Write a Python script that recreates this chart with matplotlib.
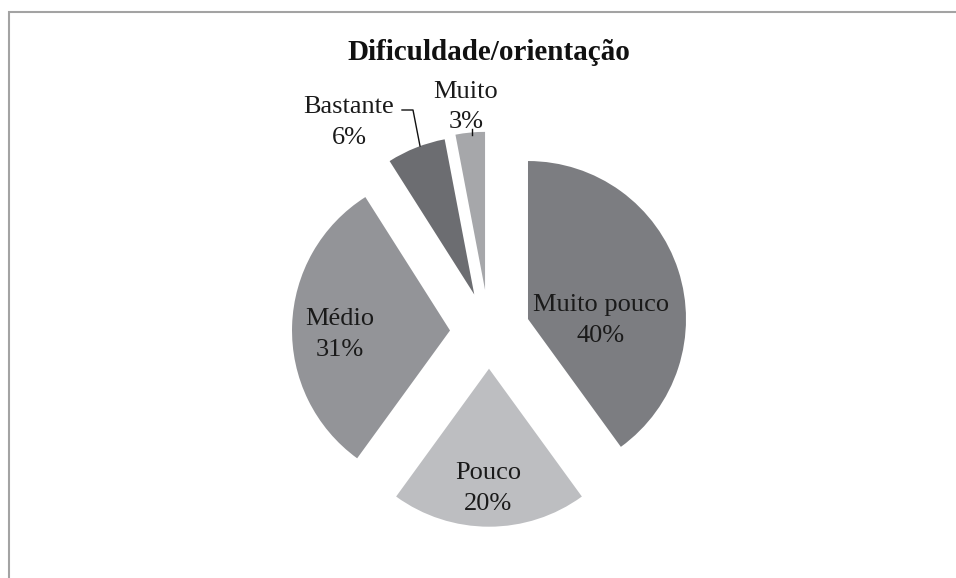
import matplotlib.pyplot as plt
from matplotlib.patches import Rectangle

# data
categories = ["Muito pouco", "Pouco", "Médio", "Bastante", "Muito"]
percents = [40, 20, 31, 6, 3]
colors = ["#7c7d81", "#bdbec1", "#939498", "#6c6d71", "#a6a7aa"]
explode = [41, 37, 39, 40, 42]

# label anchor points (pixels, y from top): first line baseline
label_xy = [(601, 311), (488, 479), (340, 325), (349, 113), (466, 98)]

W, H = 956, 578
plt.rcParams["font.family"] = ["Liberation Serif", "DejaVu Serif"]

fig = plt.figure(figsize=(W / 100, H / 100), dpi=100)
ax = fig.add_axes([0, 0, 1, 1])

ax.pie(percents, colors=colors, explode=explode, startangle=90,
       counterclock=False, radius=158, center=(489, H - 331.7),
       wedgeprops=dict(linewidth=0))

ax.set_xlim(0, W)
ax.set_ylim(0, H)
ax.set_aspect("auto")
ax.axis("off")

# outer frame (only left and top edges visible)
ax.add_patch(Rectangle((9.5, -20), 990, H - 12 + 20, fill=False,
                       edgecolor="#a3a3a3", linewidth=1.5, zorder=0))

ax.text(489, H - 60, "Dificuldade/orientação", ha="center", va="baseline",
        fontsize=21, fontweight="bold", color="#111111")

for name, pct, (x, y) in zip(categories, percents, label_xy):
    ax.text(x, H - y, name, ha="center", va="baseline", fontsize=19, color="#1a1a1a")
    ax.text(x, H - y - 30.5, f"{pct}%", ha="center", va="baseline", fontsize=19, color="#1a1a1a")

# leader lines
ax.plot([402, 413, 420], [H - 110, H - 110, H - 146], color="#111111", linewidth=1)
ax.plot([472, 472], [H - 129, H - 135], color="#111111", linewidth=1)

fig.savefig("out.png", dpi=100)
